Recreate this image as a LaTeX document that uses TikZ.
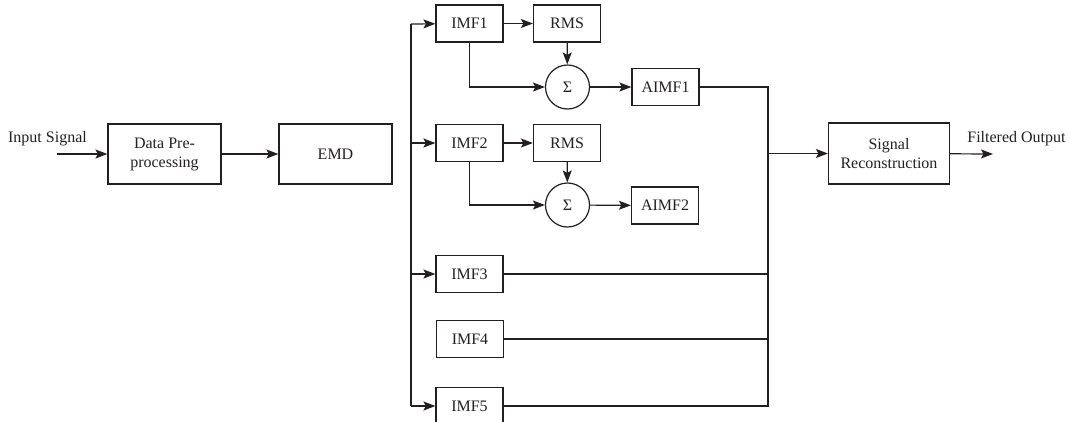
\documentclass[tikz,border=0pt]{standalone}
\usepackage{fontspec}
\setmainfont{Liberation Serif}
\usepackage{tikz}
\usetikzlibrary{arrows.meta}
\definecolor{ink}{RGB}{35,31,32}

\begin{document}
\begin{tikzpicture}[x=1pt,y=-1pt]
  \tikzset{block/.style = {shape=rectangle,draw=ink,line width=1.2pt,minimum width=67pt,minimum height=37pt,inner sep=1pt,align=center,text=ink}}
  \tikzset{bigblock/.style = {block,minimum width=113pt,minimum height=60pt}}
  \tikzset{sumnode/.style = {shape=circle,draw=ink,line width=1.2pt,minimum size=44pt,inner sep=0pt,text=ink}}
  \tikzset{edge/.style = {-{Stealth[length=12pt,width=9pt,inset=2.5pt]},draw=ink,line width=1.2pt}}
  \tikzset{wire/.style = {draw=ink,line width=1.2pt}}
  \tikzset{every node/.append style = {font=\fontsize{16}{19}\selectfont}}

  \useasboundingbox (0,0) rectangle (1069,421);

	\node[text=ink,anchor=base] (insig) at (47.5,142) {Input Signal};
	\node[bigblock] (pre) at (164.5,154) {Data Pre-\\processing};
	\node[bigblock] (emd) at (335.5,154) {EMD};

	\node[block] (imf1) at (469.5,23.5) {IMF1};
	\node[block] (rms1) at (567,23.5) {RMS};
	\node[sumnode] (s1) at (567.5,87) {Σ};
	\node[block] (aimf1) at (665.5,87) {AIMF1};

	\node[block] (imf2) at (469.5,143) {IMF2};
	\node[block] (rms2) at (567,143) {RMS};
	\node[sumnode] (s2) at (567.5,205) {Σ};
	\node[block] (aimf2) at (665,205.5) {AIMF2};

	\node[block] (imf3) at (469.5,274) {IMF3};
	\node[block] (imf4) at (470,339) {IMF4};
	\node[block] (imf5) at (469.5,406) {IMF5};

	\node[bigblock,minimum width=121pt,minimum height=61pt] (rec) at (889,153.5) {Signal\\Reconstruction};
	\node[text=ink,anchor=base] (fout) at (1016.5,142) {Filtered Output};

	\coordinate (in) at (57,154);
	\coordinate (out) at (993,154);
	\coordinate (busT) at (411,24);
	\coordinate (busB) at (411,406);
	\coordinate (jB) at (768,406);

	\draw[edge] (in) -- (pre);
	\draw[edge] (pre) -- (emd);
	\draw[wire] (busT) -- (busB);
	\draw[edge] (busT) -- (imf1);
	\foreach \to in {imf2, imf3, imf5}
	  \draw[edge] (busB |- \to) -- (\to);

	\foreach \a/\b/\s/\c in {imf1/rms1/s1/aimf1, imf2/rms2/s2/aimf2} {
	  \draw[edge] (\a) -- (\b);
	  \draw[edge] (\b) -- (\s);
	  \draw[edge] (\a.south) |- (\s);
	  \draw[edge] (\s) -- (\c);
	}

	\draw[wire] (aimf1.east) -| (jB) -- (imf5.east);
	\foreach \from in {imf3, imf4}
	  \draw[wire] (\from.east) -- (\from -| jB);
	\draw[edge] (jB |- rec) -- (rec);
	\draw[edge] (rec) -- (out);
\end{tikzpicture}
\end{document}
